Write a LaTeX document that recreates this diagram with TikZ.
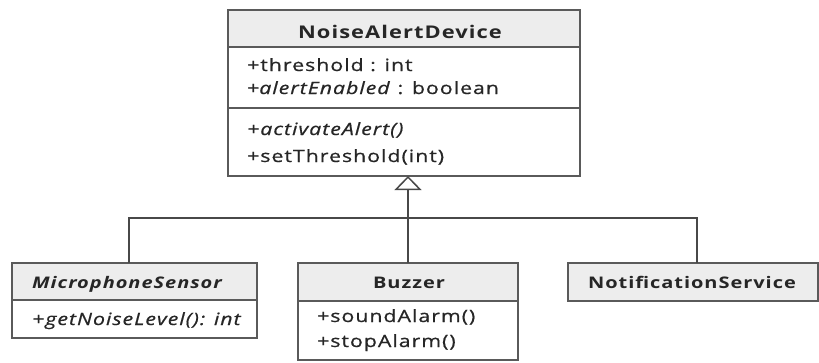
\documentclass[tikz,border=0pt]{standalone}
\usepackage{fontspec}
\setmainfont{Open Sans}[FakeStretch=1.25, LetterSpace=6]
\newfontfamily\memberfont{Open Sans}[FakeStretch=1.25, LetterSpace=6, FakeBold=0.7]
\usetikzlibrary{arrows.meta}

\definecolor{edge}{HTML}{5A5A5A}
\definecolor{headfill}{HTML}{EDEDED}
\definecolor{ink}{HTML}{262626}

\tikzset{
  classbox/.style={draw=edge, line width=1.3pt, fill=white, inner sep=0pt, outer sep=0pt, anchor=north west},
  headbox/.style={draw=edge, line width=1.3pt, fill=headfill, inner sep=0pt, outer sep=0pt, anchor=north west},
  divider/.style={draw=edge, line width=1.2pt},
  member/.style={anchor=base west, inner sep=0pt, text=ink, font=\memberfont\fontsize{17}{17}\selectfont},
  title/.style={anchor=base, inner sep=0pt, text=ink, font=\fontsize{16}{16}\selectfont\bfseries},
  link/.style={draw=edge!80!black, line width=2pt},
}

\begin{document}
\begin{tikzpicture}[x=1pt, y=-1pt]
\useasboundingbox (0,0) rectangle (819,362);

% ---- NoiseAlertDevice ----
\node[classbox, minimum width=352pt, minimum height=166pt] (dev) at (228,10) {};
\node[headbox, minimum width=352pt, minimum height=37pt] (devh) at (228,10) {};
\draw[divider] (228,108) -- (580,108);
\node[title, font=\fontsize{17.5}{17.5}\selectfont\bfseries] (devt) at (400,38) {NoiseAlertDevice};
\node[member] (a1) at (247,71) {+threshold : int};
\node[member] (a2) at (247,94) {+\textit{alertEnabled} : boolean};
\node[member] (m1) at (247,135) {\itshape +activateAlert()};
\node[member] (m2) at (247,162) {+setThreshold(int)};

% ---- MicrophoneSensor ----
\node[classbox, minimum width=245pt, minimum height=75pt] (mic) at (12,263) {};
\node[headbox, minimum width=245pt, minimum height=37pt] (mich) at (12,263) {};
\node[title, anchor=base west] (mict) at (32,288) {\itshape MicrophoneSensor};
\node[member] (mic1) at (32,325) {\itshape +getNoiseLevel(): int};

% ---- Buzzer ----
\node[classbox, minimum width=220pt, minimum height=97pt] (buz) at (298,263) {};
\node[headbox, minimum width=220pt, minimum height=38pt] (buzh) at (298,263) {};
\node[title] (buzt) at (409,288) {Buzzer};
\node[member] (buz1) at (317,322) {+soundAlarm()};
\node[member] (buz2) at (317,347) {+stopAlarm()};

% ---- NotificationService ----
\node[headbox, minimum width=250pt, minimum height=38pt] (ntf) at (568,263) {};
\node[title] (ntft) at (692,288) {NotificationService};

% ---- generalisation ----
\coordinate (bus) at (0,218);
\coordinate (micin) at ([xshift=-6pt]mich.north);
\coordinate (ntfin) at ([xshift=4pt]ntf.north);
\draw[link] (micin) -- (micin |- bus) -- (ntfin |- bus) -- (ntfin);
\draw[link, -{Triangle[open, length=14pt, width=27pt, line width=1.5pt, fill=white]}]
  (buzh.north) -- (buzh.north |- dev.south);
\end{tikzpicture}
\end{document}
